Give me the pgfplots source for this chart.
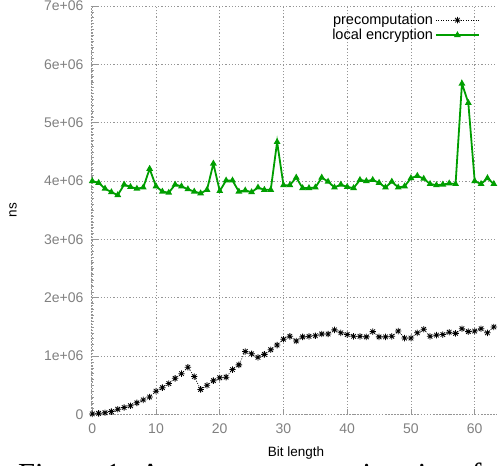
\documentclass[border=0pt]{standalone}
\usepackage{fontspec}
\setmainfont{Liberation Sans}
\newfontfamily\capfont{Liberation Serif}
\usepackage{pgfplots}
\pgfplotsset{compat=1.18}

\definecolor{gpgreen}{RGB}{0,158,0}
\definecolor{gpgray}{RGB}{128,128,128}
\definecolor{gridgray}{RGB}{150,150,150}

% gnuplot-like star: plus and cross on top of each other
\pgfdeclareplotmark{gpstar}{%
  \pgfpathmoveto{\pgfqpoint{-\pgfplotmarksize}{0pt}}\pgfpathlineto{\pgfqpoint{\pgfplotmarksize}{0pt}}%
  \pgfpathmoveto{\pgfqpoint{0pt}{-\pgfplotmarksize}}\pgfpathlineto{\pgfqpoint{0pt}{\pgfplotmarksize}}%
  \pgfpathmoveto{\pgfqpoint{-.707\pgfplotmarksize}{-.707\pgfplotmarksize}}\pgfpathlineto{\pgfqpoint{.707\pgfplotmarksize}{.707\pgfplotmarksize}}%
  \pgfpathmoveto{\pgfqpoint{-.707\pgfplotmarksize}{.707\pgfplotmarksize}}\pgfpathlineto{\pgfqpoint{.707\pgfplotmarksize}{-.707\pgfplotmarksize}}%
  \pgfusepathqstroke}

\pgfplotstableread{
x y
0 0.01
1 0.02
2 0.03
3 0.05
4 0.09
5 0.12
6 0.15
7 0.20
8 0.25
9 0.30
10 0.40
11 0.46
12 0.53
13 0.62
14 0.70
15 0.81
16 0.65
17 0.43
18 0.50
19 0.58
20 0.63
21 0.64
22 0.77
23 0.85
24 1.08
25 1.04
26 0.98
27 1.03
28 1.11
29 1.19
30 1.29
31 1.34
32 1.26
33 1.33
34 1.34
35 1.35
36 1.38
37 1.38
38 1.45
39 1.40
40 1.37
41 1.34
42 1.34
43 1.33
44 1.42
45 1.33
46 1.33
47 1.34
48 1.43
49 1.31
50 1.31
51 1.40
52 1.46
53 1.34
54 1.36
55 1.37
56 1.41
57 1.39
58 1.47
59 1.42
60 1.43
61 1.47
62 1.40
63 1.50
}\precomp

\pgfplotstableread{
x y
0 4.00
1 3.97
2 3.87
3 3.81
4 3.76
5 3.94
6 3.90
7 3.87
8 3.89
9 4.21
10 3.91
11 3.82
12 3.80
13 3.94
14 3.91
15 3.86
16 3.82
17 3.79
18 3.85
19 4.30
20 3.83
21 4.01
22 4.01
23 3.82
24 3.84
25 3.81
26 3.89
27 3.85
28 3.85
29 4.67
30 3.93
31 3.93
32 4.06
33 3.88
34 3.88
35 3.89
36 4.06
37 3.99
38 3.89
39 3.94
40 3.90
41 3.88
42 4.02
43 4.00
44 4.02
45 3.97
46 3.89
47 3.99
48 3.89
49 3.91
50 4.05
51 4.09
52 4.04
53 3.95
54 3.93
55 3.94
56 3.96
57 3.95
58 5.67
59 5.34
60 4.00
61 3.95
62 4.05
63 3.95
}\localenc

\begin{document}
\begin{tikzpicture}
\path[use as bounding box] (-91bp,-51.5bp) rectangle (407bp,414.5bp);
\clip (-91bp,-51.5bp) rectangle (407bp,414.5bp);
\begin{axis}[
    at={(0,0)}, anchor=south west,
    scale only axis,
    width=406bp, height=408.5bp,
    xmin=-0.2, xmax=63.5,
    ymin=0, ymax=7,
    axis lines=left,
    axis line style={-, gridgray, dash pattern=on 1.5bp off 1.5bp, line width=0.6bp},
    xtick={0,10,...,60},
    ytick={0,1,...,7},
    yticklabels={0,1e+06,2e+06,3e+06,4e+06,5e+06,6e+06,7e+06},
    minor y tick num=9,
    tick align=inside,
    major tick length=6bp,
    minor tick length=3bp,
    tick style={gridgray, line width=0.6bp},
    grid=major,
    major grid style={gridgray, dash pattern=on 1.2bp off 2bp, line width=0.6bp},
    minor grid style={draw=none},
    ticklabel style={font=\fontsize{14bp}{16bp}\selectfont, text=gpgray},
    /pgf/number format/assume math mode=true,
    xticklabel style={yshift=-6bp},
    yticklabel style={xshift=-4bp},
    xlabel={Bit length},
    ylabel={ns},
    label style={font=\fontsize{13.5bp}{16bp}\selectfont},
    xlabel style={at={(axis description cs:0.505,-0.104)}, anchor=base},
    ylabel style={at={(axis description cs:-0.192,0.5)}, anchor=center},
    legend style={draw=none, fill=none, at={(axis description cs:1,1)},
        anchor=north east, xshift=-14bp, yshift=-4bp,
        font=\fontsize{14.5bp}{15bp}\selectfont, row sep=-1bp},
    legend cell align=right,
    legend plot pos=right,
    legend image code/.code={\draw[mark repeat=2,mark phase=2] plot coordinates {(0bp,0bp) (21.5bp,0bp) (43bp,0bp)};},
    clip=false,
]
\addplot[black, line width=0.6bp, dash pattern=on 1bp off 1.5bp, mark=gpstar, mark size=3.2bp,
    mark options={solid, line width=0.8bp}] table[x=x, y=y] {\precomp};
\addlegendentry{precomputation}
\addplot[gpgreen, line width=1.8bp, mark=triangle*, mark size=2.2bp,
    mark options={solid, fill=gpgreen}] table[x=x, y=y] {\localenc};
\addlegendentry{local encryption}
\end{axis}
\node[anchor=base west, font=\capfont\fontsize{30.6bp}{34bp}\selectfont, inner sep=0pt]
    at (-73bp,-70bp) {Figure 1: Average computation time for local encryption};
\end{tikzpicture}
\end{document}
